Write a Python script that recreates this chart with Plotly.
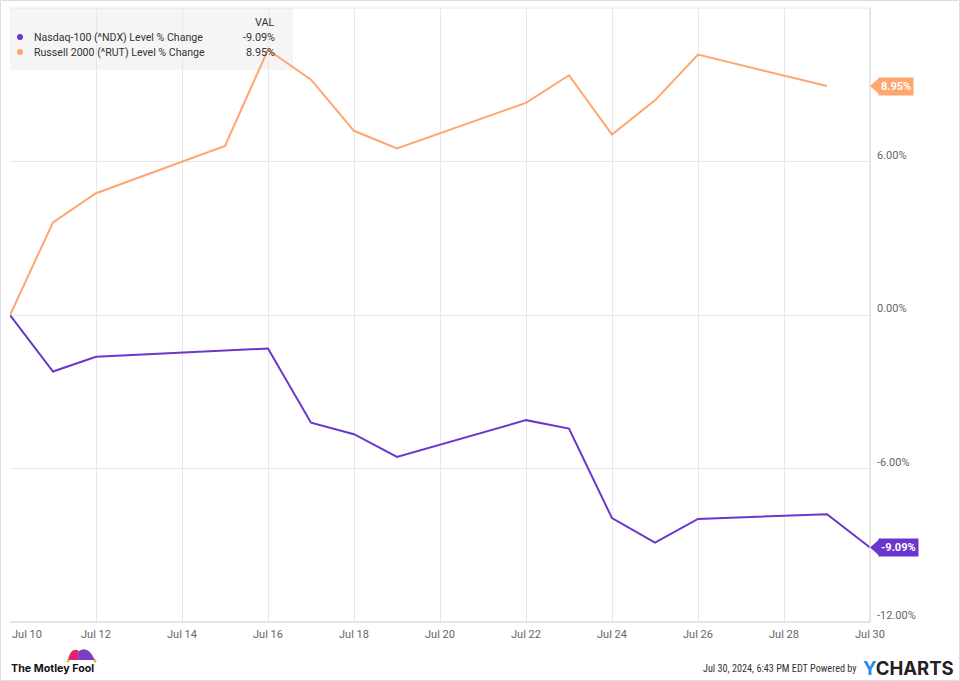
import plotly.graph_objects as go

# ---- data ----
ndx_dates = ["2024-07-10", "2024-07-11", "2024-07-12", "2024-07-15", "2024-07-16", "2024-07-17",
             "2024-07-18", "2024-07-19", "2024-07-22", "2024-07-23", "2024-07-24", "2024-07-25",
             "2024-07-26", "2024-07-29", "2024-07-30"]
ndx_values = [0.0, -2.21, -1.63, -1.37, -1.31, -4.21, -4.66, -5.55, -4.11, -4.44, -7.94, -8.90,
              -7.97, -7.79, -9.09]
rut_dates = ["2024-07-10", "2024-07-11", "2024-07-12", "2024-07-15", "2024-07-16", "2024-07-17",
             "2024-07-18", "2024-07-19", "2024-07-22", "2024-07-23", "2024-07-24", "2024-07-25",
             "2024-07-26", "2024-07-29"]
rut_values = [0.0, 3.62, 4.76, 6.61, 10.37, 9.20, 7.20, 6.51, 8.29, 9.37, 7.05, 8.39, 10.18, 8.95]

series_names = ["Nasdaq-100 (^NDX) Level % Change", "Russell 2000 (^RUT) Level % Change"]
series_last = ["-9.09%", "8.95%"]
series_colors = ["#6a36cb", "#ffa56e"]

x_tick_vals = ["2024-07-10", "2024-07-12", "2024-07-14", "2024-07-16", "2024-07-18", "2024-07-20",
               "2024-07-22", "2024-07-24", "2024-07-26", "2024-07-28", "2024-07-30"]
x_tick_text = ["Jul 10", "Jul 12", "Jul 14", "Jul 16", "Jul 18", "Jul 20", "Jul 22", "Jul 24",
               "Jul 26", "Jul 28", "Jul 30"]
y_tick_vals = [6, 0, -6, -12]
y_tick_text = ["6.00%", "0.00%", "-6.00%", "-12.00%"]

# ---- layout geometry (pixels) ----
W, H = 960, 681
ML, MR, MT, MB = 10, 90, 8, 59
PW, PH = W - ML - MR, H - MT - MB


def px(xp):
    return (xp - ML) / PW


def py(yp):
    return (H - MB - yp) / PH


FONT = "Roboto, Arial, sans-serif"

fig = go.Figure()
fig.add_trace(go.Scatter(x=ndx_dates, y=ndx_values, mode="lines", name=series_names[0],
                         line=dict(color=series_colors[0], width=2), hoverinfo="skip"))
fig.add_trace(go.Scatter(x=rut_dates, y=rut_values, mode="lines", name=series_names[1],
                         line=dict(color=series_colors[1], width=2), hoverinfo="skip"))

shapes = []
annotations = []

# legend box
shapes.append(dict(type="rect", xref="paper", yref="paper", x0=px(10), x1=px(293), y0=py(70), y1=py(8),
                   fillcolor="#f5f5f5", line=dict(width=0), layer="below"))
annotations.append(dict(xref="paper", yref="paper", x=px(277), y=py(22), text="VAL", showarrow=False,
                        xanchor="right", yanchor="middle", font=dict(family=FONT, size=10.8, color="#333")))
for i, (nm, lv, col) in enumerate(zip(series_names, series_last, series_colors)):
    yy = 37 + 15 * i
    shapes.append(dict(type="circle", xref="paper", yref="paper", x0=px(17), x1=px(23),
                       y0=py(yy + 3), y1=py(yy - 3), fillcolor=col, line=dict(width=0)))
    annotations.append(dict(xref="paper", yref="paper", x=px(32), y=py(yy), text=nm, showarrow=False,
                            xanchor="left", yanchor="middle", font=dict(family=FONT, size=10.6, color="#333")))
    annotations.append(dict(xref="paper", yref="paper", x=px(277), y=py(yy), text=lv, showarrow=False,
                            xanchor="right", yanchor="middle", font=dict(family=FONT, size=10.8, color="#333")))

# end tags
tag_vals = [ndx_values[-1], rut_values[-1]]
half = 8 / PH * 24  # data units for 8 px
for v, txt, col in zip(tag_vals, series_last, series_colors):
    shapes.append(dict(type="path", xref="paper", yref="y",
                       path=f"M {px(870)},{v} L {px(879)},{v + half} L {px(879)},{v - half} Z",
                       fillcolor=col, line=dict(width=0)))
    annotations.append(dict(xref="paper", yref="y", x=px(878), y=v, text=f"<b>{txt}</b>", showarrow=False,
                            xanchor="left", yanchor="middle", bgcolor=col, borderpad=2,
                            font=dict(family=FONT, size=11, color="white")))

# y tick labels (above gridline, right side)
for v, t in zip(y_tick_vals, y_tick_text):
    annotations.append(dict(xref="paper", yref="y", x=px(876), y=v, text=t, showarrow=False,
                            xanchor="left", yanchor="bottom", yshift=-1, borderpad=0,
                            font=dict(family=FONT, size=11, color="#666")))

# x tick labels
for i, (v, t) in enumerate(zip(x_tick_vals, x_tick_text)):
    annotations.append(dict(xref="x", yref="paper", x=v, y=py(634), text=t, showarrow=False,
                            xanchor="left" if i == 0 else "center", yanchor="middle",
                            xshift=0, font=dict(family=FONT, size=11, color="#666")))

# plot border right & bottom
shapes.append(dict(type="line", xref="paper", yref="paper", x0=1, x1=1, y0=0, y1=1,
                   line=dict(color="#cccccc", width=1)))
shapes.append(dict(type="line", xref="paper", yref="paper", x0=0, x1=1, y0=0, y1=0,
                   line=dict(color="#cccccc", width=1)))
shapes.append(dict(type="line", xref="paper", yref="paper", x0=0, x1=1, y0=1, y1=1,
                   line=dict(color="#e6e6e6", width=1)))
# outer border
shapes.append(dict(type="rect", xref="paper", yref="paper", x0=px(0.5), x1=px(959.5), y0=py(680.5), y1=py(0.5),
                   line=dict(color="#dddddd", width=1)))

# footer
annotations.append(dict(xref="paper", yref="paper", x=px(9), y=py(668), text="<b>The Motley Fool</b>",
                        showarrow=False, xanchor="left", yanchor="middle",
                        font=dict(family="Inter, Arial, sans-serif", size=10.7, color="#111")))
# jester hat
shapes.append(dict(type="path", xref="paper", yref="paper",
                   path=f"M {px(68)},{py(660)} Q {px(71)},{py(646)} {px(79)},{py(651)} Q {px(77)},{py(656)} {px(79)},{py(660)} Z",
                   fillcolor="#e0236f", line=dict(width=0)))
shapes.append(dict(type="path", xref="paper", yref="paper",
                   path=f"M {px(79)},{py(660)} Q {px(77)},{py(656)} {px(79)},{py(651)} Q {px(88)},{py(645)} {px(95)},{py(660)} Z",
                   fillcolor="#7b3fc4", line=dict(width=0)))
for xx in (68, 95):
    shapes.append(dict(type="circle", xref="paper", yref="paper", x0=px(xx - 1.5), x1=px(xx + 1.5),
                       y0=py(662.5), y1=py(659.5), fillcolor="#f5b400", line=dict(width=0)))

annotations.append(dict(xref="paper", yref="paper", x=px(859), y=py(668),
                        text="Jul 30, 2024, 6:43 PM EDT Powered by", showarrow=False,
                        xanchor="right", yanchor="middle",
                        font=dict(family="Roboto Condensed, Roboto, Arial, sans-serif", size=10.2, color="#333")))
annotations.append(dict(xref="paper", yref="paper", x=px(861), y=py(668),
                        text="<span style='color:#1f8ded'>Y</span>CHARTS", showarrow=False,
                        xanchor="left", yanchor="middle",
                        font=dict(family="Inter, Arial, sans-serif", size=18.5, color="#222", weight="bold")))

fig.update_layout(
    width=W, height=H,
    margin=dict(l=ML, r=MR, t=MT, b=MB),
    paper_bgcolor="white", plot_bgcolor="white",
    showlegend=False,
    shapes=shapes, annotations=annotations,
    xaxis=dict(type="date", range=["2024-07-10", "2024-07-30"], tickvals=x_tick_vals,
               showticklabels=False, showgrid=True, gridcolor="#e8e8e8", gridwidth=1,
               zeroline=False, showline=False, ticks=""),
    yaxis=dict(range=[-12, 12], tickvals=y_tick_vals, showticklabels=False, showgrid=True,
               gridcolor="#e8e8e8", gridwidth=1, zeroline=False, showline=False, ticks="", side="right"),
)

fig.write_html("out.html")
